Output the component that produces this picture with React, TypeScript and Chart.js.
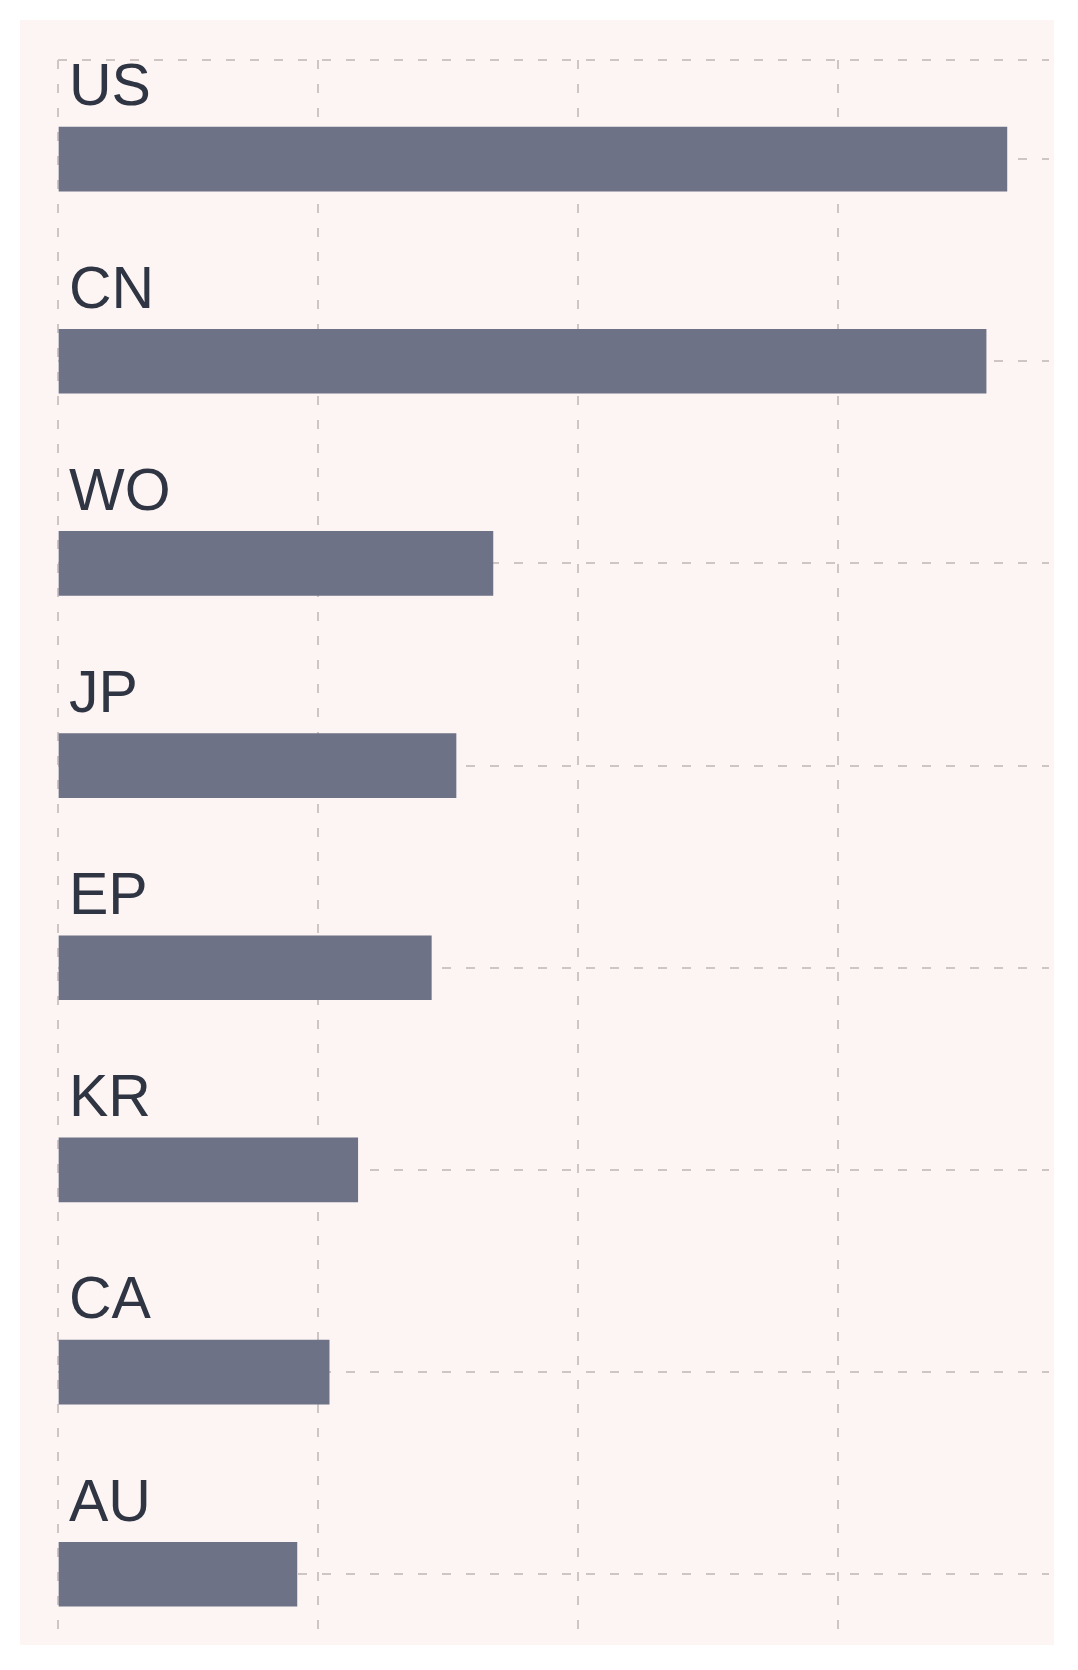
import React, { useEffect, useRef } from "react";
import { Chart, registerables } from "chart.js";

Chart.register(...registerables);

const categories = ["US", "CN", "WO", "JP", "EP", "KR", "CA", "AU"];
const values = [3650, 3570, 1673, 1531, 1436, 1153, 1043, 919];
const xTicks = [0, 1000, 2000, 3000];
const xMax = 3812;
const yMin = -0.49;
const yMax = 7.34;

const GRID = "#cfc5c5";
const DASH = [9, 15];

export default function App() {
  const ref = useRef<HTMLCanvasElement | null>(null);

  useEffect(() => {
    if (!ref.current) return;
    const chart = new Chart(ref.current, {
      type: "bar",
      data: {
        datasets: [
          {
            data: categories.map((c, i) => ({ x: values[i], y: i })),
            backgroundColor: "#6d7286",
            borderWidth: 0,
            barThickness: 64,
          },
        ],
      },
      options: {
        indexAxis: "y",
        animation: false,
        responsive: true,
        maintainAspectRatio: false,
        layout: { padding: { left: 38, top: 40, right: 5, bottom: 2 } },
        plugins: { legend: { display: false }, tooltip: { enabled: false } },
        scales: {
          x: {
            type: "linear",
            position: "top",
            min: 0,
            max: xMax,
            offset: false,
            ticks: { display: false },
            grid: { color: GRID, lineWidth: 2, drawTicks: false, offset: false },
            border: { display: false, dash: DASH },
            afterBuildTicks: (s: any) => {
              s.ticks = xTicks.map((v) => ({ value: v }));
            },
            afterFit: (s: any) => {
              s.height = 0;
              s.paddingLeft = 0;
              s.paddingRight = 0;
            },
          },
          y: {
            type: "linear",
            reverse: true,
            min: yMin,
            max: yMax,
            offset: false,
            ticks: {
              mirror: true,
              padding: 11,
              labelOffset: -70,
              color: "#2f3542",
              font: { family: "'Liberation Sans', Arial, sans-serif", size: 59 },
              callback: (v: any) => categories[v] ?? "",
            },
            grid: { color: GRID, lineWidth: 2, drawTicks: false, offset: false },
            border: { display: false, dash: DASH },
            afterBuildTicks: (s: any) => {
              s.ticks = [{ value: yMin }, ...categories.map((c, i) => ({ value: i }))];
            },
            afterFit: (s: any) => {
              s.width = 0;
              s.paddingTop = 0;
              s.paddingBottom = 0;
            },
          },
        },
      },
    });
    return () => chart.destroy();
  }, []);

  return (
    <div style={{ margin: 12, width: 1034, height: 1625, background: "#fdf4f4", position: "relative" }}>
      <canvas ref={ref} />
    </div>
  );
}
